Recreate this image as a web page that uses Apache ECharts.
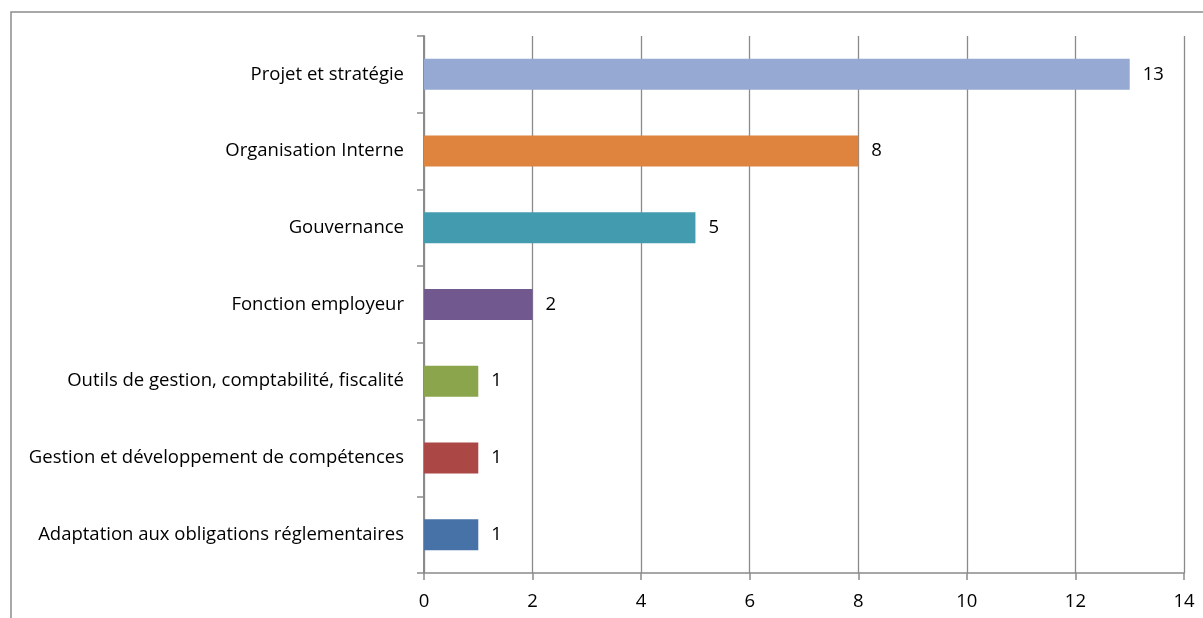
<!DOCTYPE html>
<html>
<head>
<meta charset="utf-8">
<script src="https://cdn.jsdelivr.net/npm/echarts@6/dist/echarts.min.js"></script>
<style>
  html, body { margin: 0; padding: 0; background: #fff; }
  #chart { width: 1203px; height: 618px; }
</style>
</head>
<body>
<div id="chart"></div>
<script>
// Themes, listed bottom to top as the category axis draws them
const categories = [
  'Adaptation aux obligations réglementaires',
  'Gestion et développement de compétences',
  'Outils de gestion, comptabilité, fiscalité',
  'Fonction employeur',
  'Gouvernance',
  'Organisation Interne',
  'Projet et stratégie'
];
const counts = [1, 1, 1, 2, 5, 8, 13];
const xTicks = [0, 2, 4, 6, 8, 10, 12, 14];

const barColors = ['#4772A7', '#AB4745', '#8BA54C', '#715990', '#439BB0', '#DE843F', '#95A9D2'];
const font = '"Open Sans", sans-serif';
const fontSize = 18.5;
const axisGray = '#8a8a8a';

const chart = echarts.init(document.getElementById('chart'), null, { renderer: 'canvas' });
chart.setOption({
  animation: false,
  backgroundColor: '#fff',
  graphic: [{
    type: 'rect',
    shape: { x: 11, y: 12, width: 1300, height: 700 },
    style: { fill: 'none', stroke: '#8c8c8c', lineWidth: 1.5 },
    silent: true
  }],
  grid: { left: 424, right: 19, top: 36, bottom: 45, containLabel: false },
  xAxis: {
    type: 'value',
    min: xTicks[0],
    max: xTicks[xTicks.length - 1],
    interval: 2,
    axisLine: { show: true, lineStyle: { color: axisGray, width: 1.5 } },
    axisTick: { show: true, length: 7, lineStyle: { color: axisGray, width: 1.5 } },
    axisLabel: { color: '#000', fontFamily: font, fontSize: fontSize, margin: 19 },
    splitLine: { show: true, lineStyle: { color: axisGray, width: 1.3 } }
  },
  yAxis: {
    type: 'category',
    data: categories,
    axisLine: { show: true, lineStyle: { color: axisGray, width: 2 } },
    axisTick: { show: true, length: 7, lineStyle: { color: axisGray, width: 1.5 } },
    axisLabel: { color: '#000', fontFamily: font, fontSize: fontSize, margin: 20, padding: [4, 0, 0, 0] },
    splitLine: { show: false }
  },
  series: [{
    type: 'bar',
    barWidth: 31,
    data: counts.map((v, i) => ({ value: v, itemStyle: { color: barColors[i] } })),
    label: {
      show: true,
      position: 'right',
      distance: 13,
      color: '#000',
      fontFamily: font,
      fontSize: fontSize,
      padding: [4, 0, 0, 0]
    }
  }]
});
</script>
</body>
</html>
